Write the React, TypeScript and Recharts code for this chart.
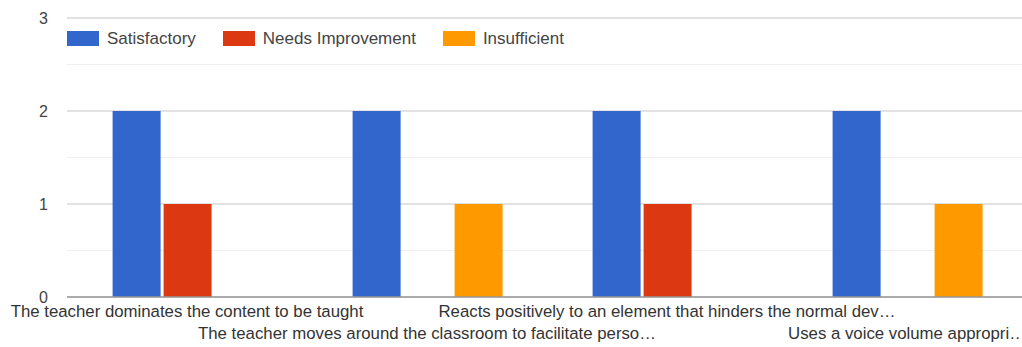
import React from "react";
import { BarChart, Bar, XAxis, YAxis, CartesianGrid } from "recharts";

const categories = [
  "The teacher dominates the content to be taught",
  "The teacher moves around the classroom to facilitate perso…",
  "Reacts positively to an element that hinders the normal dev…",
  "Uses a voice volume appropri…"
];
const satisfactory = [2, 2, 2, 2];
const needsImprovement = [1, 0, 1, 0];
const insufficient = [0, 1, 0, 1];
// grid every half step, labels only on whole numbers
const yTicks = [0, 0.5, 1, 1.5, 2, 2.5, 3];

const series = [
  { key: "Satisfactory", color: "#3366cc" },
  { key: "Needs Improvement", color: "#dc3912" },
  { key: "Insufficient", color: "#ff9900" }
];

const data = categories.map((name, i) => ({
  name,
  Satisfactory: satisfactory[i],
  "Needs Improvement": needsImprovement[i],
  Insufficient: insufficient[i]
}));

const FONT = "'Liberation Sans', Arial, sans-serif";

// two-row staggered category labels
const StaggeredTick = (props: any) => {
  const { x, y, payload, index } = props;
  const dy = index % 2 === 0 ? 12 : 34;
  return (
    <text
      x={x}
      y={y + dy}
      textAnchor="middle"
      fill="#333"
      fontSize={16.8}
      fontFamily={FONT}
    >
      {payload.value}
    </text>
  );
};

// major lines on whole numbers, fainter ones on the halves
const GridLine = (props: any) => {
  const { x1, x2, y1, y2, index } = props;
  const major = index % 2 === 0;
  return (
    <line
      x1={x1}
      x2={x2}
      y1={y1}
      y2={y2}
      stroke={major ? "#d9d9d9" : "#efefef"}
      strokeWidth={major ? 1.5 : 1.2}
    />
  );
};

const ChartLegend = () => (
  <div
    style={{
      position: "absolute",
      top: 31,
      left: 67,
      display: "flex",
      alignItems: "center",
      fontFamily: FONT,
      fontSize: 17,
      color: "#444"
    }}
  >
    {series.map((s) => (
      <div key={s.key} style={{ display: "flex", alignItems: "center", marginRight: 27 }}>
        <span
          style={{
            display: "inline-block",
            width: 32,
            height: 15,
            background: s.color,
            marginRight: 8
          }}
        />
        <span style={{ lineHeight: "15px" }}>{s.key}</span>
      </div>
    ))}
  </div>
);

const App = () => {
  return (
    <div
      style={{
        position: "absolute",
        left: 0,
        top: 0,
        width: 1022,
        height: 347,
        overflow: "hidden",
        background: "#fff"
      }}
    >
      <BarChart
        width={1027}
        height={347}
        data={data}
        margin={{ top: 18, right: 0, bottom: 0, left: 0 }}
        barCategoryGap="19%"
        barGap={3}
      >
        <CartesianGrid vertical={false} horizontal={<GridLine />} />
        <XAxis
          dataKey="name"
          height={50}
          interval={0}
          tickLine={false}
          axisLine={{ stroke: "#999", strokeWidth: 1.5 }}
          tick={<StaggeredTick />}
        />
        <YAxis
          width={67}
          domain={[0, 3]}
          ticks={yTicks}
          interval={0}
          tickLine={false}
          axisLine={false}
          tickSize={0}
          tickMargin={19}
          tickFormatter={(v: number) => (Number.isInteger(v) ? String(v) : "")}
          tick={{ fill: "#444", fontSize: 16, fontFamily: FONT }}
        />
        {series.map((s) => (
          <Bar key={s.key} dataKey={s.key} fill={s.color} isAnimationActive={false} />
        ))}
      </BarChart>
      <ChartLegend />
    </div>
  );
};

export default App;
